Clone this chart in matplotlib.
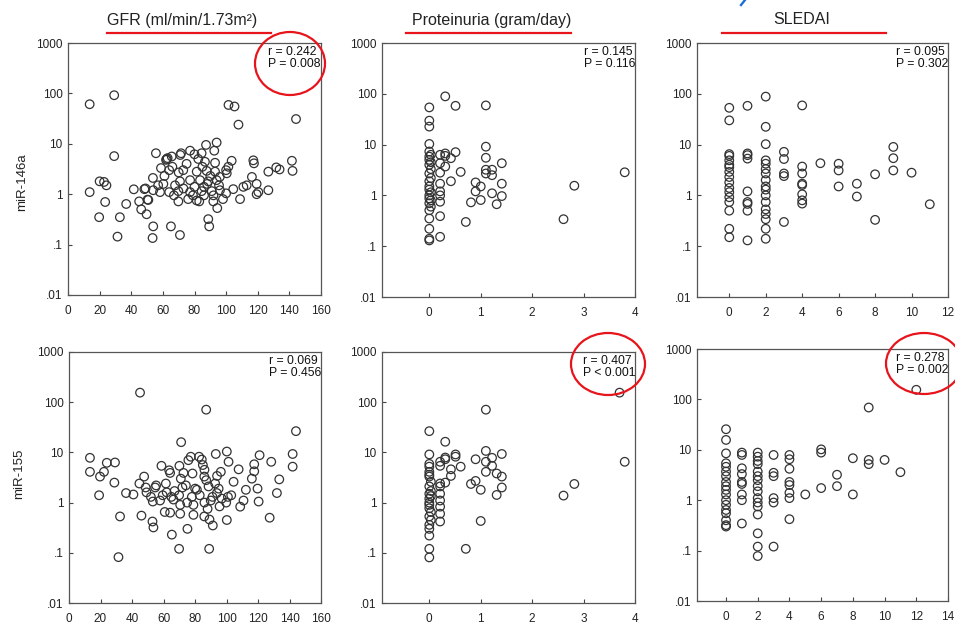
import matplotlib
matplotlib.use("Agg")
import matplotlib.pyplot as plt
from matplotlib.patches import Ellipse
from matplotlib.lines import Line2D
from matplotlib.ticker import NullLocator

plt.rcParams['font.family'] = ['Liberation Sans', 'DejaVu Sans']

# GFR vs miR-146a
gfr_146a_x = [13.7, 29.2, 101.5, 105.3, 107.8, 144.2, 29.2, 13.7, 20.0, 22.8,
              24.3, 23.5, 19.7, 32.8, 31.3, 36.8, 41.6, 45.0, 46.3, 49.0,
              49.7, 50.3, 53.7, 53.9, 53.9, 53.5, 55.6,
              94.0, 87.3, 77.2, 71.5, 65.6, 62.4, 84.5, 92.5, 82.4, 103.5,
              117.2, 117.6, 58.8, 64.0, 72.9, 86.6, 93.0, 100.0, 101.4, 87.7,
              93.0, 81.4, 77.2, 83.5, 88.7, 95.5, 70.8, 67.7, 60.3, 48.3,
              58.2, 64.0, 69.8, 77.2, 84.5, 90.9, 96.1, 100.0, 104.5, 110.9,
              113.0, 119.3, 120.4, 126.7, 126.7, 50.8, 69.8, 81.4, 91.9, 108.8,
              119.3, 94.4, 88.7, 89.3, 65.1, 70.8,
              141.6, 142.0, 131.7, 133.8, 116.3, 100.4,
              62, 66, 70, 75, 80, 85, 90, 96, 73, 79,
              86, 92, 57, 61, 67, 76, 83, 88, 98, 94,
              71, 63, 86, 80]
gfr_146a_y = [61, 92, 59, 55, 24, 31, 5.7, 1.1, 1.8, 1.75,
              1.5, 0.70, 0.35, 0.35, 0.144, 0.64, 1.25, 0.72, 0.50, 1.3,
              0.40, 0.78, 2.1, 1.2, 0.23, 0.135, 6.5,
              10.6, 9.5, 7.3, 6.5, 5.6, 5.0, 6.5, 7.3, 5.0, 4.6,
              4.7, 4.1, 3.3, 3.0, 3.0, 4.4, 4.2, 3.0, 3.5, 2.9,
              2.8, 2.8, 1.9, 1.9, 1.8, 1.5, 1.8, 1.5, 1.6, 1.26,
              1.1, 1.1, 1.15, 1.1, 1.15, 1.15, 1.2, 1.04, 1.26, 1.4,
              1.5, 1.6, 1.1, 1.2, 2.8, 0.77, 0.72, 0.75, 0.72, 0.80,
              1.0, 0.53, 0.32, 0.23, 0.23, 0.155,
              4.6, 2.9, 3.4, 3.1, 2.2, 2.6,
              4.8, 3.5, 2.7, 4.0, 6.2, 3.5, 2.3, 2.2, 1.3, 0.95,
              0.95, 0.95, 1.5, 2.3, 0.95, 0.8, 0.72, 1.6, 0.8, 1.9,
              6.0, 5.2, 1.4, 1.4]

# GFR vs miR-155
gfr_155_x = [45.1, 87.1, 71.2, 144.1, 142.0, 142.0, 13.3, 13.3, 19.7, 22.2,
             24.0, 29.2, 28.8, 19.1, 32.4, 31.4, 36.2, 40.9, 44.7, 47.7,
             48.7, 49.2, 46.0, 53.0, 53.6, 53.2, 54.7, 55.3, 58.7, 57.8,
             59.5, 61.5, 60.8, 63.6, 64.2, 64.2, 65.3, 66.3, 70.1, 69.9,
             70.6, 70.6, 69.9, 72.7, 74.2, 75.2, 75.8, 77.3, 78.4, 79.0,
             79.0, 80.1, 81.2, 82.6, 84.3, 85.0, 85.9, 87.1, 86.0, 85.9,
             88.6, 89.2, 89.0, 91.1, 91.3, 92.8, 93.2, 93.9, 95.6, 96.4,
             99.8, 100.2, 101.3, 100.2, 100.9, 104.5, 107.7, 108.7, 110.8, 112.3,
             116.1, 117.6, 117.6, 119.7, 120.4, 121.0, 127.4, 128.4, 132.0, 133.5,
             65, 72, 78, 83, 88, 90, 95, 97, 67, 75,
             52, 62, 86, 103, 71, 94]
gfr_155_y = [155, 71, 16, 26.5, 9.3, 5.2, 7.8, 4.1, 3.3, 4.1,
             6.2, 6.3, 2.5, 1.4, 0.53, 0.082, 1.55, 1.45, 2.4, 3.3,
             2.0, 1.6, 0.55, 0.42, 0.32, 1.05, 2.0, 2.2, 5.4, 1.1,
             1.4, 2.4, 0.65, 4.4, 3.9, 0.63, 0.23, 1.15, 5.4, 1.4,
             0.9, 0.6, 0.12, 3.9, 2.2, 0.3, 7.0, 8.2, 3.8, 0.9,
             0.57, 1.9, 1.8, 8.2, 7.2, 5.6, 3.3, 2.8, 1.0, 0.53,
             2.1, 0.46, 0.12, 1.3, 0.35, 2.4, 9.3, 1.55, 0.84, 4.1,
             1.0, 10.4, 6.5, 0.45, 1.3, 2.6, 4.6, 0.83, 1.1, 1.8,
             3.0, 5.8, 4.2, 1.9, 1.05, 8.8, 0.5, 6.5, 1.55, 2.9,
             1.3, 2.0, 1.3, 1.4, 0.75, 1.1, 1.9, 1.2, 1.7, 1.0,
             1.3, 1.6, 4.5, 1.4, 3.0, 3.4]

# Proteinuria vs miR-146a
prot_146a_x = [0, 0, 0, 0, 0, 0, 0, 0, 0, 0,
               0, 0, 0, 0, 0, 0, 0, 0, 0, 0,
               0.03, 0.03, 0.03, 0.03, 0.03, 0.03, 0.03,
               0.21, 0.21, 0.21, 0.21, 0.21, 0.21, 0.21, 0.21, 0.21,
               0.31, 0.31, 0.31, 0.31,
               0.42, 0.42, 0.51, 0.51, 0.61, 0.71, 0.81, 0.9, 0.9, 1.0, 1.0,
               1.1, 1.1, 1.1, 1.1, 1.1, 1.22, 1.22, 1.22, 1.31,
               1.41, 1.41, 1.41, 2.61, 2.82, 3.8]
prot_146a_y = [54, 29.6, 22.6, 10.3, 7.3, 5.8, 5.0, 4.0, 2.7, 1.9,
               1.5, 1.3, 1.0, 0.87, 0.70, 0.51, 0.35, 0.22, 0.14, 0.13,
               3.3, 2.2, 1.15, 0.8, 0.6, 6.3, 4.5,
               6.3, 4.3, 2.8, 1.7, 1.2, 0.75, 0.39, 0.153, 1.0,
               89, 6.7, 6.0, 3.7,
               5.4, 1.9, 58, 7.1, 2.9, 0.30, 0.73, 1.8, 1.2, 1.5, 0.81,
               59, 9.1, 5.5, 3.2, 2.7, 3.2, 2.5, 1.1, 0.67,
               4.3, 1.7, 0.97, 0.34, 1.55, 2.85]

# Proteinuria vs miR-155
prot_155_x = [0, 0, 0, 0, 0, 0, 0, 0, 0, 0,
              0, 0, 0, 0, 0, 0, 0, 0, 0,
              0.03, 0.03, 0.03, 0.03, 0.03,
              0.21, 0.21, 0.21, 0.21, 0.21, 0.21, 0.21, 0.21, 0.21,
              0.31, 0.31, 0.31, 0.31,
              0.42, 0.42, 0.51, 0.51, 0.61, 0.71, 0.81, 0.9, 0.9, 1.0, 1.0,
              1.1, 1.1, 1.1, 1.1, 1.22, 1.22, 1.31, 1.31,
              1.41, 1.41, 1.41, 2.61, 2.82, 3.7, 3.8]
prot_155_y = [26.5, 9.1, 5.9, 5.2, 4.1, 3.6, 3.3, 2.1, 1.5, 1.2,
              1.0, 0.9, 0.77, 0.53, 0.36, 0.30, 0.22, 0.12, 0.081,
              2.6, 1.7, 1.35, 0.65, 0.45,
              5.4, 6.5, 2.4, 2.1, 1.5, 1.1, 0.83, 0.6, 0.42,
              16.3, 7.9, 7.3, 2.5,
              4.6, 3.4, 9.1, 8.2, 5.2, 0.12, 2.35, 7.3, 2.7, 1.8, 0.43,
              71, 10.7, 6.5, 4.1, 7.8, 5.4, 3.8, 1.42,
              9.3, 3.3, 2.0, 1.38, 2.35, 155, 6.5]

# SLEDAI vs miR-146a
sledai_146a_x = [0, 0, 0, 0, 0, 0, 0, 0, 0, 0, 0, 0, 0, 0, 0, 0, 0,
                 1, 1, 1, 1, 1, 1, 1, 1, 1,
                 2, 2, 2, 2, 2, 2, 2, 2, 2, 2, 2, 2, 2, 2, 2, 2, 2,
                 3, 3, 3, 3, 3,
                 4, 4, 4, 4, 4, 4, 4, 4,
                 5, 6, 6, 6, 7, 7, 8, 8, 9, 9, 9, 10, 11]
sledai_146a_y = [53, 30, 6.5, 6.0, 4.9, 4.0, 3.6, 2.9, 1.8, 1.16, 0.92, 0.74, 0.50, 0.22, 0.15, 2.3, 1.4,
                 58, 6.7, 6.2, 5.3, 1.2, 0.74, 0.68, 0.5, 0.13,
                 88, 22.4, 10.2, 4.9, 4.2, 3.3, 2.7, 2.0, 1.5, 1.3, 1.0, 0.74, 0.53, 0.43, 0.34, 0.22, 0.14,
                 7.2, 5.2, 2.7, 2.4, 0.30,
                 59, 3.7, 2.7, 1.7, 1.6, 1.05, 0.8, 0.69,
                 4.3, 4.2, 3.1, 1.5, 1.7, 0.95, 2.6, 0.33, 9.0, 5.4, 3.1, 2.8, 0.67]

# SLEDAI vs miR-155
sledai_155_x = [0, 0, 0, 0, 0, 0, 0, 0, 0, 0, 0, 0, 0, 0, 0, 0, 0, 0,
                1, 1, 1, 1, 1, 1, 1, 1, 1,
                2, 2, 2, 2, 2, 2, 2, 2, 2, 2, 2, 2, 2, 2, 2, 2,
                3, 3, 3, 3, 3, 3,
                4, 4, 4, 4, 4, 4, 4, 4,
                5, 6, 6, 6, 7, 7, 8, 8, 9, 9, 9, 10, 11, 12]
sledai_155_y = [25.6, 15.7, 8.5, 5.4, 4.6, 3.7, 3.0, 2.3, 1.9, 1.6, 1.3, 1.0, 0.81, 0.64, 0.55, 0.40, 0.32, 0.30,
                8.8, 7.9, 4.3, 3.3, 2.3, 2.1, 1.3, 1.0, 0.345,
                8.8, 7.3, 6.0, 5.2, 3.7, 3.0, 2.5, 1.9, 1.5, 1.1, 0.9, 0.75, 0.52, 0.22, 0.12, 0.078,
                7.9, 3.5, 3.0, 1.1, 0.9, 0.12,
                7.9, 6.5, 4.2, 2.3, 2.0, 1.4, 1.1, 0.42,
                1.3, 10.2, 8.8, 1.74, 3.2, 1.9, 6.8, 1.3, 69, 6.3, 5.2, 6.3, 3.6, 155]

col_titles = ["GFR (ml/min/1.73m\u00b2)", "Proteinuria (gram/day)", "SLEDAI"]
row_titles = ["miR-146a", "miR-155"]
stats = [["r = 0.242\nP = 0.008", "r = 0.145\nP = 0.116", "r = 0.095\nP = 0.302"],
         ["r = 0.069\nP = 0.456", "r = 0.407\nP < 0.001", "r = 0.278\nP = 0.002"]]
y_ticks = [0.01, 0.1, 1, 10, 100, 1000]
y_ticklabels = [".01", ".1", "1", "10", "100", "1000"]

W, H = 955, 623
fig = plt.figure(figsize=(W / 100, H / 100), dpi=100)


def box(l, r, t, b):
    return [l / W, 1 - b / H, (r - l) / W, (b - t) / H]


def fx(px):
    return px / W


def fy(py):
    return 1 - py / H


def panel(rect, x, y, xlim, xticks, txt):
    ax = fig.add_axes(box(*rect))
    ax.scatter(x, y, s=38, facecolors='none', edgecolors='#333333', linewidths=0.9, zorder=3)
    ax.set_yscale('log')
    ax.set_ylim(0.01, 1000)
    ax.set_yticks(y_ticks)
    ax.set_yticklabels(y_ticklabels)
    ax.yaxis.set_minor_locator(NullLocator())
    ax.set_xlim(*xlim)
    ax.set_xticks(xticks)
    ax.tick_params(direction='in', length=3, width=0.8, labelsize=8.5,
                   color='#444444', labelcolor='#222222')
    ax.tick_params(axis='x', pad=7)
    ax.tick_params(axis='y', pad=4)
    for s in ax.spines.values():
        s.set_color('#555555')
        s.set_linewidth(0.9)
    ax.text(1.0, 0.988, txt, transform=ax.transAxes, ha='right', va='top',
            fontsize=8.8, linespacing=1.0, color='#111111', multialignment='left')
    return ax


panel((68, 321, 43, 295), gfr_146a_x, gfr_146a_y, (0, 160), range(0, 161, 20), stats[0][0])
panel((382, 635, 43, 297), prot_146a_x, prot_146a_y, (-0.92, 4), range(0, 5), stats[0][1])
panel((697, 948, 43, 297), sledai_146a_x, sledai_146a_y, (-1.77, 12), range(0, 13, 2), stats[0][2])
panel((69, 321, 352, 603), gfr_155_x, gfr_155_y, (0, 160), range(0, 161, 20), stats[1][0])
panel((382, 635, 352, 603), prot_155_x, prot_155_y, (-0.92, 4), range(0, 5), stats[1][1])
panel((697, 948, 349, 601), sledai_155_x, sledai_155_y, (-1.83, 14), range(0, 15, 2), stats[1][2])

# column headers with red underlines
for title, cx, (u0, u1) in zip(col_titles, [182, 492, 802], [(107, 271), (406, 571), (722, 886)]):
    fig.text(fx(cx), fy(20), title, ha='center', va='center', fontsize=11.5, color='#222222')
    fig.add_artist(Line2D([fx(u0), fx(u1)], [fy(33), fy(33)], transform=fig.transFigure,
                          color='#e8141c', lw=1.6))

# row labels
fig.text(fx(22), fy(182), row_titles[0], rotation=90, ha='center', va='center', fontsize=9.5, color='#222222')
fig.text(fx(19), fy(474), row_titles[1], rotation=90, ha='center', va='center', fontsize=9.5, color='#222222')

# red circles around the significant correlations
for cx, cy, w, h in [(290, 63.5, 70, 63), (608, 364, 74, 62), (924, 363.5, 76, 61)]:
    fig.add_artist(Ellipse((fx(cx), fy(cy)), w / W, h / H, transform=fig.transFigure,
                           fill=False, ec='#e8141c', lw=1.6, zorder=5))

# blue stroke at the top edge
fig.add_artist(Line2D([fx(741), fx(745)], [fy(5), fy(0)], transform=fig.transFigure,
                      color='#1a6fd4', lw=1.7))

fig.savefig("out.png", dpi=100)
